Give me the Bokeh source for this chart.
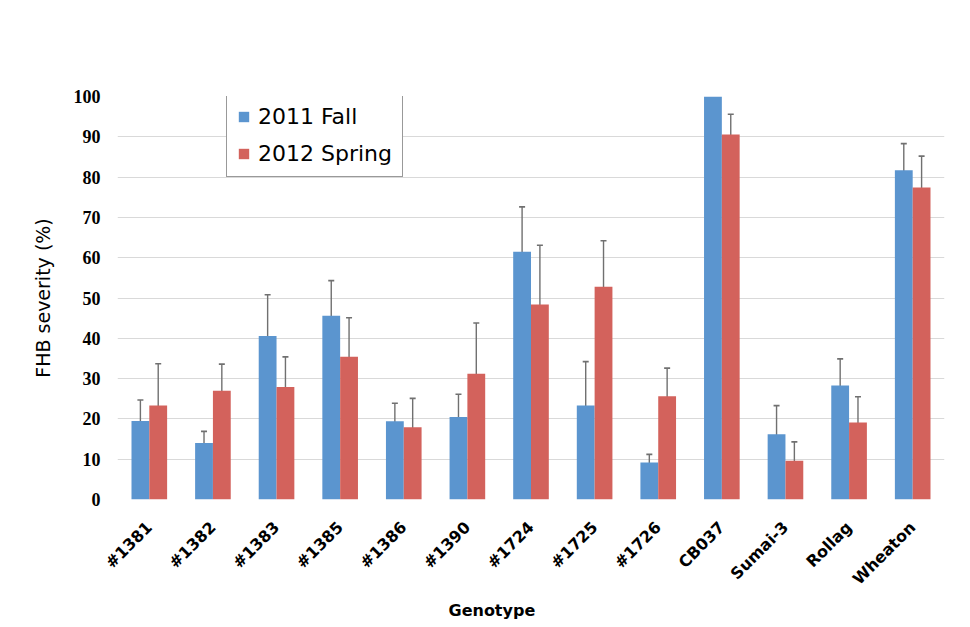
import math
from bokeh.plotting import figure
from bokeh.models import ColumnDataSource, Whisker, Legend, LegendItem, Title, FixedTicker, TeeHead, Range1d
from bokeh.transform import dodge
from bokeh.embed import file_html
from bokeh.resources import INLINE

genotypes = ["#1381", "#1382", "#1383", "#1385", "#1386", "#1390", "#1724",
             "#1725", "#1726", "CB037", "Sumai-3", "Rollag", "Wheaton"]
fall_2011 = [19.5, 14.0, 40.6, 45.6, 19.4, 20.5, 61.5, 23.3, 9.2, 100.0, 16.2, 28.3, 81.7]
fall_2011_err = [5.2, 2.9, 10.2, 8.7, 4.5, 5.6, 11.1, 10.9, 2.0, 0.0, 7.1, 6.6, 6.6]
spring_2012 = [23.3, 27.0, 27.9, 35.4, 17.9, 31.2, 48.4, 52.8, 25.6, 90.6, 9.6, 19.1, 77.4]
spring_2012_err = [10.4, 6.6, 7.5, 9.7, 7.2, 12.6, 14.7, 11.4, 7.0, 5.0, 4.7, 6.4, 7.8]
y_ticks = [0, 10, 20, 30, 40, 50, 60, 70, 80, 90, 100]
series_names = ["2011 Fall", "2012 Spring"]

BLUE = "#5b95cf"
RED = "#d3625c"
ERR = "#707070"

p = figure(x_range=genotypes, y_range=Range1d(0, 100), width=962, height=619,
           output_backend="svg", toolbar_location=None,
           min_border_left=117, min_border_right=18, min_border_top=96, min_border_bottom=120)

src_fall = ColumnDataSource(dict(genotype=genotypes, val=fall_2011))
src_spring = ColumnDataSource(dict(genotype=genotypes, val=spring_2012))

off = 0.14
r_fall = p.vbar(x=dodge("genotype", -off, range=p.x_range), top="val", width=0.28,
                source=src_fall, fill_color=BLUE, line_color=None)
r_spring = p.vbar(x=dodge("genotype", off, range=p.x_range), top="val", width=0.28,
                  source=src_spring, fill_color=RED, line_color=None)

# error bars (skip zero errors)
idx_f = [i for i, e in enumerate(fall_2011_err) if e > 0]
err_fall = ColumnDataSource(dict(
    genotype=[genotypes[i] for i in idx_f],
    upper=[fall_2011[i] + fall_2011_err[i] for i in idx_f],
    lower=[fall_2011[i] - fall_2011_err[i] for i in idx_f]))
idx_s = [i for i, e in enumerate(spring_2012_err) if e > 0]
err_spring = ColumnDataSource(dict(
    genotype=[genotypes[i] for i in idx_s],
    upper=[spring_2012[i] + spring_2012_err[i] for i in idx_s],
    lower=[spring_2012[i] - spring_2012_err[i] for i in idx_s]))

for src, o in ((err_fall, -off), (err_spring, off)):
    w = Whisker(base=dodge("genotype", o, range=p.x_range), upper="upper", lower="lower",
                source=src, line_color=ERR, line_width=1.4,
                upper_head=TeeHead(size=6, line_color=ERR, line_width=1.6),
                lower_head=TeeHead(size=6, line_color=ERR, line_width=1.6))
    p.add_layout(w)

# axes
p.yaxis.ticker = FixedTicker(ticks=y_ticks)
p.yaxis.axis_line_color = None
p.yaxis.major_tick_line_color = None
p.yaxis.minor_tick_line_color = None
p.yaxis.major_tick_out = 0
p.yaxis.major_label_standoff = 17
p.yaxis.major_label_text_font = "Liberation Serif"
p.yaxis.major_label_text_font_style = "bold"
p.yaxis.major_label_text_font_size = "18px"
p.yaxis.major_label_text_color = "black"
p.yaxis.axis_label = "FHB severity (%)"
p.yaxis.axis_label_text_font = "DejaVu Sans"
p.yaxis.axis_label_text_font_style = "normal"
p.yaxis.axis_label_text_font_size = "19px"
p.yaxis.axis_label_text_color = "black"
p.yaxis.axis_label_standoff = 17

p.xaxis.axis_line_color = None
p.xaxis.major_tick_line_color = None
p.xaxis.minor_tick_line_color = None
p.xaxis.major_tick_out = 0
p.xaxis.major_label_orientation = math.pi / 4
p.xaxis.major_label_standoff = 25
p.xaxis.major_label_text_font = "DejaVu Sans"
p.xaxis.major_label_text_font_style = "bold"
p.xaxis.major_label_text_font_size = "16px"
p.xaxis.major_label_text_color = "black"

p.add_layout(Title(text="Genotype", align="left", offset=331, standoff=0,
                   text_line_height=1.0,
                   text_font="DejaVu Sans", text_font_style="bold",
                   text_font_size="16px", text_color="black"), "below")

p.xgrid.grid_line_color = None
p.ygrid.grid_line_color = "#d9d9d9"
p.ygrid.grid_line_width = 1
p.outline_line_color = None

legend = Legend(items=[LegendItem(label=series_names[0], renderers=[r_fall]),
                       LegendItem(label=series_names[1], renderers=[r_spring])],
                location=(109, 322))
legend.label_text_font = "DejaVu Sans"
legend.label_text_font_size = "22px"
legend.label_text_color = "black"
legend.label_height = 24
legend.glyph_width = 13
legend.glyph_height = 13
legend.label_standoff = 8
legend.spacing = 12
legend.padding = 10
legend.margin = 0
legend.border_line_color = "#333333"
legend.border_line_width = 1.5
legend.background_fill_color = "white"
legend.background_fill_alpha = 1
p.add_layout(legend)

open("out.html", "w").write(file_html(p, INLINE))
